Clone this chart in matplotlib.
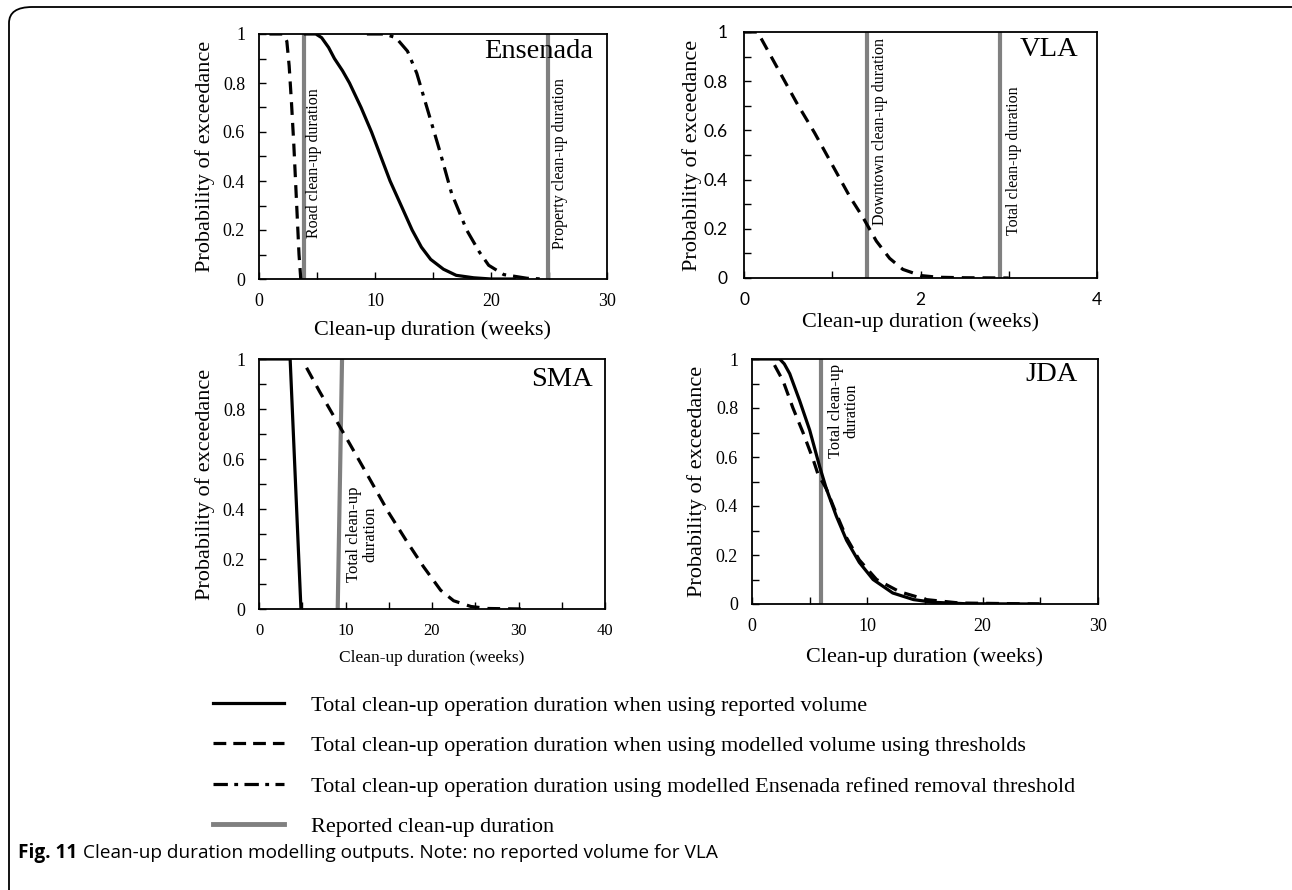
import matplotlib
matplotlib.use("Agg")
import matplotlib.pyplot as plt
from matplotlib.lines import Line2D
from matplotlib.patches import FancyBboxPatch
from matplotlib.ticker import MultipleLocator

plt.rcParams['font.family'] = ['Liberation Serif', 'DejaVu Serif']

# ---------------- data ----------------
# Ensenada
ens_rep_x = [4.0, 4.9, 5.4, 6.0, 6.5, 7.2, 7.8, 8.8, 9.7, 10.5, 11.3, 12.3, 13.2, 14.0, 14.8, 15.9, 17.0, 18.5, 20.0, 22.0]
ens_rep_y = [1.0, 1.0, 0.985, 0.945, 0.9, 0.85, 0.8, 0.7, 0.6, 0.5, 0.4, 0.295, 0.2, 0.13, 0.08, 0.04, 0.015, 0.005, 0.0, 0.0]
ens_mod_x = [0.9, 2.1, 2.4, 2.6, 2.8, 3.0, 3.15, 3.3, 3.45, 3.6]
ens_mod_y = [1.0, 1.0, 0.97, 0.87, 0.72, 0.55, 0.4, 0.25, 0.1, 0.0]
ens_ref_x = [9.3, 10.8, 11.8, 12.8, 13.6, 14.6, 15.6, 16.6, 17.9, 19.0, 19.8, 21.1, 23.1, 24.5]
ens_ref_y = [1.0, 1.0, 0.985, 0.93, 0.84, 0.68, 0.52, 0.35, 0.2, 0.11, 0.056, 0.018, 0.003, 0.0]
ens_reported = [3.86, 24.9]
ens_reported_labels = ["Road clean-up duration", "Property clean-up duration"]

# VLA
vla_mod_x = [0.0, 0.15, 0.2, 0.4, 0.6, 0.8, 1.0, 1.2, 1.35, 1.5, 1.65, 1.8, 2.0, 2.2, 2.5, 3.0]
vla_mod_y = [1.0, 1.0, 0.97, 0.84, 0.71, 0.59, 0.46, 0.33, 0.245, 0.15, 0.08, 0.035, 0.01, 0.003, 0.001, 0.0]
vla_reported = [1.39, 2.9]
vla_reported_labels = ["Downtown clean-up duration", "Total clean-up duration"]

# SMA
sma_rep_x = [0.0, 3.6, 4.85]
sma_rep_y = [1.0, 1.0, 0.0]
sma_mod_x = [5.5, 7.0, 9.0, 10.5, 12.8, 15.0, 17.0, 19.0, 21.0, 22.5, 24.5, 26.5, 30.5]
sma_mod_y = [0.965, 0.87, 0.75, 0.66, 0.52, 0.385, 0.275, 0.17, 0.075, 0.033, 0.01, 0.002, 0.0]
sma_reported_x = [9.1, 9.6]
sma_reported_y = [0.0, 1.0]
sma_reported_label = "Total clean-up\nduration"

# JDA
jda_rep_x = [0.0, 2.4, 2.8, 3.27, 4.13, 5.0, 5.87, 6.45, 7.3, 8.2, 9.3, 10.5, 12.2, 14.0, 15.7, 18.6, 24.9]
jda_rep_y = [1.0, 1.0, 0.98, 0.94, 0.83, 0.71, 0.56, 0.47, 0.36, 0.26, 0.17, 0.10, 0.045, 0.018, 0.007, 0.001, 0.0]
jda_mod_x = [1.95, 2.7, 3.55, 4.42, 5.3, 5.72, 6.45, 7.3, 8.2, 9.3, 10.8, 12.8, 15.1, 18.0, 24.9]
jda_mod_y = [0.975, 0.91, 0.80, 0.70, 0.59, 0.53, 0.47, 0.37, 0.27, 0.18, 0.10, 0.05, 0.018, 0.004, 0.0]
jda_reported = [6.0]
jda_reported_label = "Total clean-up\nduration"

legend_labels = [
    "Total clean-up operation duration when using reported volume",
    "Total clean-up operation duration when using modelled volume using thresholds",
    "Total clean-up operation duration using modelled Ensenada refined removal threshold",
    "Reported clean-up duration",
]

# ---------------- styles ----------------
BLACK_LW = 2.3
GRAY = '#808080'
GRAY_LW = 3.0
DASH = (0, (4, 2.5))
DASHDOT = (0, (5, 2.2, 1.2, 2.2))

fig = plt.figure(figsize=(12.92, 8.90), dpi=100)

W, H = 1292.0, 890.0
def axbox(l, r, t, b):
    return [l / W, (H - b) / H, (r - l) / W, (b - t) / H]

ax_e = fig.add_axes(axbox(259, 607, 34, 279))
ax_v = fig.add_axes(axbox(744, 1097, 32, 278))
ax_s = fig.add_axes(axbox(259, 605, 359, 609))
ax_j = fig.add_axes(axbox(752, 1098, 359, 604))

def style(ax, xmax, xmajor, xminor, ylabel_x, xlabel_y, tick_font=None,
          tick_size=13, xlabel_size=16, xtick_size=None, ypad=10):
    ax.set_xlim(0, xmax)
    ax.set_ylim(0, 1)
    ax.xaxis.set_major_locator(MultipleLocator(xmajor))
    ax.xaxis.set_minor_locator(MultipleLocator(xminor))
    ax.yaxis.set_major_locator(MultipleLocator(0.2))
    ax.yaxis.set_minor_locator(MultipleLocator(0.1))
    ax.tick_params(which='both', direction='in', length=5, width=1.0,
                   top=False, right=False)
    ax.tick_params(axis='y', which='major', pad=ypad, labelsize=tick_size)
    ax.tick_params(axis='x', which='major', pad=10,
                   labelsize=xtick_size if xtick_size else tick_size)
    ax.set_yticks([0, 0.2, 0.4, 0.6, 0.8, 1.0])
    ax.set_yticklabels(['0', '0.2', '0.4', '0.6', '0.8', '1'])
    for sp in ax.spines.values():
        sp.set_linewidth(1.3)
    ax.set_ylabel("Probability of exceedance", fontsize=16)
    ax.yaxis.set_label_coords(ylabel_x, 0.5)
    ax.set_xlabel("Clean-up duration (weeks)", fontsize=xlabel_size)
    ax.xaxis.set_label_coords(0.5, xlabel_y)
    if tick_font:
        for lab in ax.get_xticklabels() + ax.get_yticklabels():
            lab.set_family(tick_font)

# Ensenada
for xv in ens_reported:
    ax_e.axvline(xv, color=GRAY, lw=GRAY_LW)
ax_e.plot(ens_mod_x, ens_mod_y, color='black', lw=BLACK_LW, linestyle=DASH)
ax_e.plot(ens_rep_x, ens_rep_y, color='black', lw=BLACK_LW)
ax_e.plot(ens_ref_x, ens_ref_y, color='black', lw=BLACK_LW, linestyle=DASHDOT)
ax_e.text(4.75, 0.475, ens_reported_labels[0], rotation=90, fontsize=11.5,
          ha='center', va='center')
ax_e.text(25.95, 0.47, ens_reported_labels[1], rotation=90, fontsize=11.5,
          ha='center', va='center')
ax_e.text(0.96, 0.928, "Ensenada", transform=ax_e.transAxes, fontsize=20.5,
          ha='right', va='center')
style(ax_e, 30, 10, 5, -0.126, -0.17)

# VLA
for xv in vla_reported:
    ax_v.axvline(xv, color=GRAY, lw=GRAY_LW)
ax_v.plot(vla_mod_x, vla_mod_y, color='black', lw=BLACK_LW, linestyle=DASH)
ax_v.text(1.54, 0.595, vla_reported_labels[0], rotation=90, fontsize=11.5,
          ha='center', va='center')
ax_v.text(3.06, 0.475, vla_reported_labels[1], rotation=90, fontsize=11.5,
          ha='center', va='center')
ax_v.text(0.946, 0.927, "VLA", transform=ax_v.transAxes, fontsize=20.5,
          ha='right', va='center')
style(ax_v, 4, 2, 1, -0.119, -0.14, tick_font=['Lato', 'DejaVu Sans'],
      tick_size=12.5, ypad=12)

# SMA
ax_s.plot(sma_reported_x, sma_reported_y, color=GRAY, lw=GRAY_LW)
ax_s.plot(sma_rep_x, sma_rep_y, color='black', lw=BLACK_LW)
ax_s.plot(sma_mod_x, sma_mod_y, color='black', lw=BLACK_LW, linestyle=DASH)
ax_s.text(11.9, 0.30, sma_reported_label, rotation=90, fontsize=12,
          ha='center', va='center', linespacing=1.0)
ax_s.text(0.964, 0.916, "SMA", transform=ax_s.transAxes, fontsize=20.5,
          ha='right', va='center')
style(ax_s, 40, 10, 5, -0.127, -0.165, xlabel_size=12.5, xtick_size=12)

# JDA
for xv in jda_reported:
    ax_j.axvline(xv, color=GRAY, lw=GRAY_LW)
ax_j.plot(jda_mod_x, jda_mod_y, color='black', lw=BLACK_LW, linestyle=DASH)
ax_j.plot(jda_rep_x, jda_rep_y, color='black', lw=BLACK_LW)
ax_j.text(7.95, 0.79, jda_reported_label, rotation=90, fontsize=11.8,
          ha='center', va='center', linespacing=1.0)
ax_j.text(0.942, 0.935, "JDA", transform=ax_j.transAxes, fontsize=20.5,
          ha='right', va='center')
style(ax_j, 30, 10, 5, -0.130, -0.175, xlabel_size=16)

# legend
handles = [
    Line2D([], [], color='black', lw=BLACK_LW),
    Line2D([], [], color='black', lw=BLACK_LW, linestyle=(0, (4, 2.2))),
    Line2D([], [], color='black', lw=BLACK_LW, linestyle=(0, (4.5, 2.0, 1.2, 2.0))),
    Line2D([], [], color=GRAY, lw=GRAY_LW + 0.5),
]
leg = fig.legend(handles, legend_labels, loc='upper left',
                 bbox_to_anchor=(213 / W, 1 - 695 / H), frameon=False,
                 fontsize=16, handlelength=3.2, handletextpad=1.2,
                 labelspacing=0.9, borderaxespad=0, borderpad=0)

# caption
fig.text(18 / W, 1 - 853 / H, "Fig. 11", fontsize=13.7, fontweight='bold',
         family=['Open Sans', 'DejaVu Sans'], va='center', ha='left')
fig.text(83 / W, 1 - 853 / H,
         "Clean-up duration modelling outputs. Note: no reported volume for VLA",
         fontsize=13.7, family=['Open Sans', 'DejaVu Sans'], va='center', ha='left')

# rounded frame (top + left)
frame = FancyBboxPatch((9 / W, -0.05), 1.2, 1 - 7 / H + 0.05,
                       boxstyle="round,pad=0,rounding_size=0.018",
                       transform=fig.transFigure, fill=False,
                       edgecolor='black', lw=1.3, clip_on=False)
fig.patches.append(frame)

fig.savefig("out.png", dpi=100)
